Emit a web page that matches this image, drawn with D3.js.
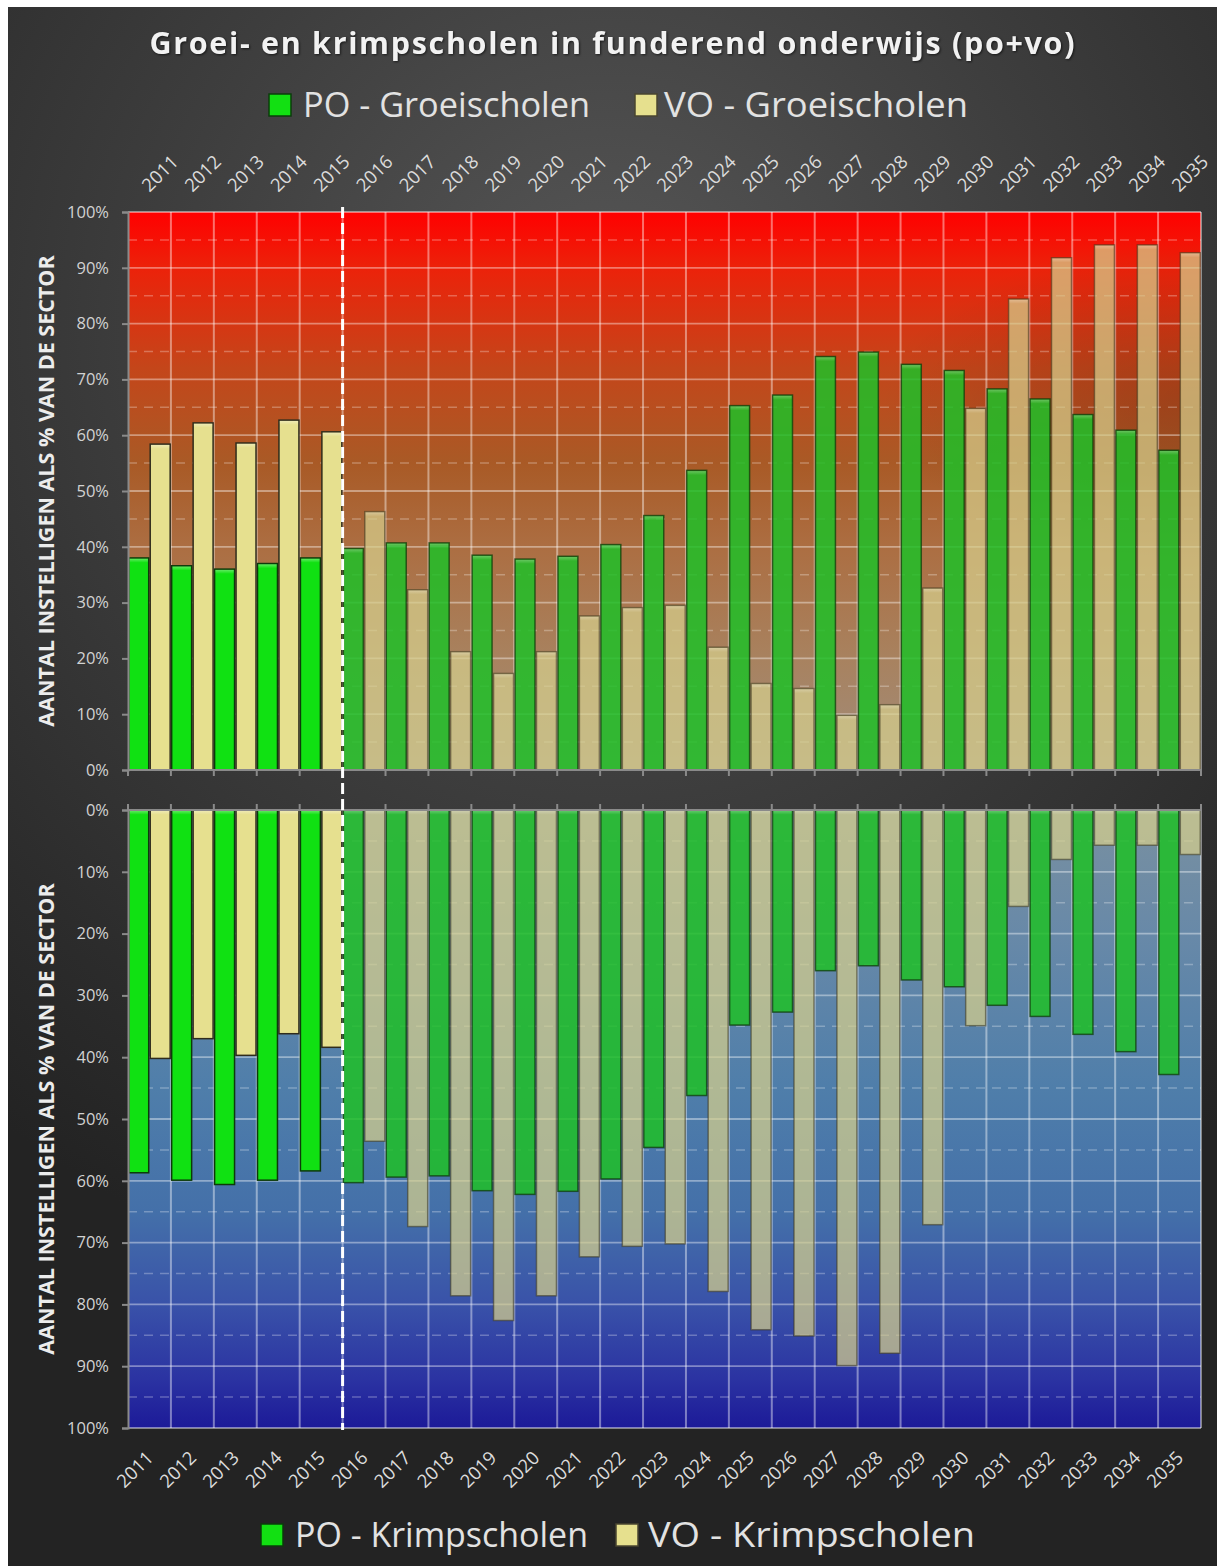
<!DOCTYPE html>
<html><head><meta charset="utf-8">
<script src="https://cdn.jsdelivr.net/npm/d3@7"></script>
<style>html,body{margin:0;padding:0;background:#fff;} svg{display:block;}</style>
</head><body><svg id="c" width="1217" height="1566"></svg>
<script>
// ---------- data ----------
const years = ["2011","2012","2013","2014","2015","2016","2017","2018","2019","2020","2021","2022","2023","2024","2025","2026","2027","2028","2029","2030","2031","2032","2033","2034","2035"];
const poGroei = [38.0,36.6,36.0,37.0,38.0,39.7,40.7,40.7,38.5,37.8,38.3,40.4,45.6,53.7,65.3,67.2,74.1,74.9,72.7,71.6,68.3,66.5,63.7,60.9,57.3];
const voGroei = [58.4,62.2,58.6,62.7,60.6,46.3,32.3,21.2,17.3,21.2,27.6,29.1,29.5,22.0,15.5,14.6,9.8,11.7,32.6,64.8,84.4,91.8,94.1,94.1,92.7];
const poKrimp = [58.7,59.9,60.6,59.9,58.4,60.3,59.4,59.2,61.6,62.2,61.7,59.7,54.6,46.2,34.8,32.7,26.0,25.2,27.5,28.6,31.6,33.4,36.3,39.1,42.8];
const voKrimp = [40.2,37.0,39.7,36.2,38.4,53.6,67.4,78.6,82.6,78.6,72.3,70.6,70.2,77.9,84.1,85.1,89.9,87.9,67.1,34.9,15.6,8.0,5.7,5.7,7.2];
const yTickValues = [0,10,20,30,40,50,60,70,80,90,100];
const minorTickValues = [5,15,25,35,45,55,65,75,85,95];
const lastObservedYear = "2015";
const titleText = "Groei- en krimpscholen in funderend onderwijs (po+vo)";
const legendTop = ["PO - Groeischolen","VO - Groeischolen"];
const legendBottom = ["PO - Krimpscholen","VO - Krimpscholen"];
const yTitle = "AANTAL INSTELLIGEN ALS % VAN DE SECTOR";

// ---------- layout ----------
const svg = d3.select("#c");
const FONT = "'Open Sans', 'DejaVu Sans', sans-serif";
const L = 128, R = 1201;
const x = d3.scaleBand().domain(years).range([L, R]).padding(0);
const sub = d3.scaleBand().domain(["po","vo"]).range([0, x.bandwidth()]).padding(0);
const yTop = d3.scaleLinear().domain([0,100]).range([770,212]);
const yBot = d3.scaleLinear().domain([0,100]).range([810,1428]);

const defs = svg.append("defs");
function linGrad(id, stops, x2, y2) {
  const g = defs.append("linearGradient").attr("id", id)
    .attr("x1",0).attr("y1",0).attr("x2",x2).attr("y2",y2);
  stops.forEach(s => g.append("stop").attr("offset", s[0]).attr("stop-color", s[1]).attr("stop-opacity", s[2] == null ? 1 : s[2]));
}
const rg = defs.append("radialGradient").attr("id","panelBg")
  .attr("gradientUnits","userSpaceOnUse").attr("cx",610).attr("cy",330).attr("r",1000);
[[0,"#575757"],[0.45,"#3e3e3e"],[0.8,"#2c2c2c"],[1,"#232323"]].forEach(s=>rg.append("stop").attr("offset",s[0]).attr("stop-color",s[1]));
linGrad("topBg", [[0,"#ff0000"],[0.1,"#ec220a"],[0.28,"#c4461a"],[0.45,"#a95a26"],[0.6,"#ac6e42"],[0.8,"#a8825f"],[1,"#a08c7c"]], 0, 1);
linGrad("botBg", [[0,"#7990a0"],[0.2,"#6889a8"],[0.45,"#4f7eaa"],[0.65,"#4470a9"],[0.8,"#3952a9"],[0.92,"#2b33a2"],[1,"#1c1a98"]], 0, 1);
const shCy = yTop(66);
const sh = defs.append("radialGradient").attr("id","rightShade")
  .attr("gradientUnits","userSpaceOnUse").attr("cx",R).attr("cy",shCy).attr("r",320)
  .attr("gradientTransform",`translate(${R},${shCy}) scale(1,0.5) translate(${-R},${-shCy})`);
[[0,"#000",0.16],[1,"#000",0]].forEach(s=>sh.append("stop").attr("offset",s[0]).attr("stop-color",s[1]).attr("stop-opacity",s[2]));
linGrad("hl", [[0,"#fff",0.55],[1,"#fff",0]], 0, 1);

// panel background
svg.append("rect").attr("x",8).attr("y",7).attr("width",1217-8).attr("height",1566-7).attr("fill","url(#panelBg)");

// title
svg.append("text").attr("x",612).attr("y",54).attr("text-anchor","middle")
  .attr("font-family",FONT).attr("font-weight","bold").attr("font-size",30.5)
  .attr("fill","#f2f2f2").attr("textLength",925).attr("lengthAdjust","spacing")
  .style("filter","drop-shadow(1px 1px 1px rgba(0,0,0,0.6))").text(titleText);

// legends
function legend(items, y, pos, colors, strokes) {
  items.forEach((t,i)=>{
    svg.append("rect").attr("x",pos[i][0]).attr("y",y-23).attr("width",22).attr("height",22)
      .attr("fill",colors[i]).attr("stroke",strokes[i]).attr("stroke-width",1.5);
    svg.append("text").attr("x",pos[i][1]).attr("y",y).attr("font-family",FONT)
      .attr("font-size",34).attr("fill","#e2e2e2")
      .attr("textLength",pos[i][2]).attr("lengthAdjust","spacingAndGlyphs").text(t);
  });
}
legend(legendTop, 117, [[269,303,287],[635,664,304]], ["#12e012","#e6e08e"], ["#0b3d0b","#4a4630"]);
legend(legendBottom, 1547, [[261,295,293],[616,648,327]], ["#12e012","#e6e08e"], ["#0b3d0b","#4a4630"]);

// ---------- panels ----------
function panel(yS, poArr, voArr, down, bgId) {
  const g = svg.append("g");
  const y0 = yS(0), y100 = yS(100);
  const top = Math.min(y0,y100), h = Math.abs(y100-y0);
  g.append("rect").attr("x",L).attr("y",top).attr("width",R-L).attr("height",h).attr("fill",`url(#${bgId})`);
  if (!down) g.append("rect").attr("x",L).attr("y",top).attr("width",R-L).attr("height",h).attr("fill","url(#rightShade)");
  // grid
  g.selectAll(".minor").data(minorTickValues).join("line")
    .attr("x1",L).attr("x2",R).attr("y1",d=>yS(d)).attr("y2",d=>yS(d))
    .attr("stroke","rgba(255,255,255,0.28)").attr("stroke-width",1.5).attr("stroke-dasharray","9,7");
  g.selectAll(".major").data(yTickValues.filter(d=>d>0&&d<100)).join("line")
    .attr("x1",L).attr("x2",R).attr("y1",d=>yS(d)).attr("y2",d=>yS(d))
    .attr("stroke","rgba(255,255,255,0.4)").attr("stroke-width",1.8);
  g.selectAll(".vgrid").data(years.slice(1)).join("line")
    .attr("x1",d=>x(d)).attr("x2",d=>x(d)).attr("y1",top).attr("y2",top+h)
    .attr("stroke","rgba(255,255,255,0.42)").attr("stroke-width",2);
  // frame
  g.append("line").attr("x1",L).attr("x2",R).attr("y1",y100).attr("y2",y100)
    .attr("stroke","rgba(255,255,255,0.45)").attr("stroke-width",2);
  g.append("line").attr("x1",R).attr("x2",R).attr("y1",top).attr("y2",top+h)
    .attr("stroke","rgba(255,255,255,0.45)").attr("stroke-width",2);

  // bars
  const data = years.map((yr,i)=>({yr, po:poArr[i], vo:voArr[i], obs: +yr <= +lastObservedYear}));
  const series = [
    {key:"po", obsFill:"#10e112", fcFill:"#1fbf28", fcOp:0.86, obsStroke:"#0d3a0a", fcStroke:"rgba(15,60,10,0.75)"},
    {key:"vo", obsFill:"#e6e08f", fcFill:"#d6cf8c", fcOp:0.72, obsStroke:"#2f2c1c", fcStroke:"rgba(60,55,30,0.55)"}
  ];
  series.forEach(s=>{
    const bars = g.selectAll(".b"+s.key).data(data).join("g");
    bars.append("rect")
      .attr("x",d=>x(d.yr)+sub(s.key)+0.75)
      .attr("width",sub.bandwidth()-1.5)
      .attr("y",d=> down ? y0 : yS(d[s.key]))
      .attr("height",d=> Math.abs(yS(d[s.key])-y0))
      .attr("fill",d=> d.obs ? s.obsFill : s.fcFill)
      .attr("fill-opacity",d=> d.obs ? 1 : s.fcOp)
      .attr("stroke",d=> d.obs ? s.obsStroke : s.fcStroke)
      .attr("stroke-width",1.5);
    bars.append("rect")
      .attr("x",d=>x(d.yr)+sub(s.key)+1.5)
      .attr("width",sub.bandwidth()-3)
      .attr("y",d=> down ? y0+0.75 : yS(d[s.key])+0.75)
      .attr("height",4)
      .attr("fill","url(#hl)").attr("opacity",d=>d.obs?0.6:0.45);
  });

  // y axis
  const ax = g.append("g").attr("transform",`translate(${L},0)`)
    .call(d3.axisLeft(yS).tickValues(yTickValues).tickFormat(d=>d+"%").tickSize(6).tickPadding(13));
  ax.select(".domain").attr("stroke","#8a8a8a").attr("stroke-width",2);
  ax.selectAll(".tick line").attr("stroke","#8a8a8a").attr("stroke-width",2);
  ax.selectAll(".tick text").attr("fill","#d2d2d2").attr("font-family",FONT).attr("font-size",16.5);

  // x baseline + boundary ticks
  g.append("line").attr("x1",L).attr("x2",R).attr("y1",y0).attr("y2",y0)
    .attr("stroke","#8a8a8a").attr("stroke-width",2);
  const tickDir = down ? -6 : 6;
  g.selectAll(".xt").data(years.concat(["end"])).join("line")
    .attr("x1",d=> d==="end" ? R : x(d)).attr("x2",d=> d==="end" ? R : x(d))
    .attr("y1",y0).attr("y2",y0+tickDir)
    .attr("stroke","#8a8a8a").attr("stroke-width",2);

  // x labels
  g.selectAll(".xl").data(years).join("text")
    .attr("transform",d=> down
      ? `translate(${x(d)+x.bandwidth()/2+5},1459) rotate(-45)`
      : `translate(${x(d)+x.bandwidth()/2},193) rotate(-45)`)
    .attr("text-anchor", down ? "end" : "start")
    .attr("font-family",FONT).attr("font-size",18.5).attr("fill","#dcdcdc").text(d=>d);

  // y title
  g.append("text").attr("transform",`translate(54,${(top+top+h)/2}) rotate(-90)`)
    .attr("text-anchor","middle").attr("font-family",FONT).attr("font-weight","bold")
    .attr("font-size",21.5).attr("fill","#ececec").text(yTitle);
}
panel(yTop, poGroei, voGroei, false, "topBg");
panel(yBot, poKrimp, voKrimp, true, "botBg");

// dashed separator between observed and forecast years
const sepX = x(lastObservedYear) + x.bandwidth();
svg.append("line").attr("x1",sepX).attr("x2",sepX).attr("y1",207).attr("y2",1430)
  .attr("stroke","#fff").attr("stroke-width",3).attr("stroke-dasharray","11,5");
</script></body></html>
